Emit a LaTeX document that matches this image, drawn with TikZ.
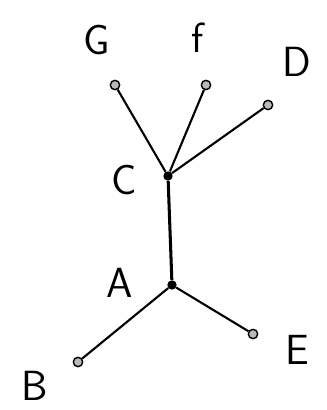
\documentclass[tikz,border=0pt]{standalone}
\usepackage{tikz}
\usetikzlibrary{positioning}

\tikzset{
  leaf/.style={circle, draw=black, fill=gray!55, line width=1.2pt, inner sep=0pt, minimum size=8pt},
  hub/.style={circle, fill=black, inner sep=0pt, minimum size=8pt},
  edge/.style={line width=1.8pt},
  lbl/.style={font=\sffamily\fontsize{36}{40}\selectfont, inner sep=0pt}
}

\begin{document}
\begin{tikzpicture}
  \useasboundingbox (0,0) rectangle (9.78,12.3);

  %% inner vertices
  \node[hub] (c) at (5.04,7.02) {};
  \node[hub] (a) at (5.16,3.75) {};

  %% leaves
  \node[leaf] (g) at (3.45,9.75) {};
  \node[leaf] (f) at (6.18,9.75) {};
  \node[leaf] (d) at (8.04,9.15) {};
  \node[leaf] (b) at (2.34,1.44) {};
  \node[leaf] (e) at (7.59,2.28) {};

  %% edges
  \draw[edge] (c) -- (g);
  \draw[edge] (c) -- (f);
  \draw[edge] (c) -- (d);
  \draw[edge, line width=2.6pt] (c) -- (a);
  \draw[edge] (a) -- (b);
  \draw[edge] (a) -- (e);

  %% labels
  \node[lbl] (lg) at (2.91,11.1) {G};
  \node[lbl] (lf) at (5.94,11.16) {f};
  \node[lbl] (ld) at (8.91,10.44) {D};
  \node[lbl] (lc) at (3.72,6.9) {C};
  \node[lbl] (la) at (3.6,3.81) {A};
  \node[lbl] (lb) at (1.05,0.72) {B};
  \node[lbl] (le) at (8.91,1.8) {E};
\end{tikzpicture}
\end{document}
